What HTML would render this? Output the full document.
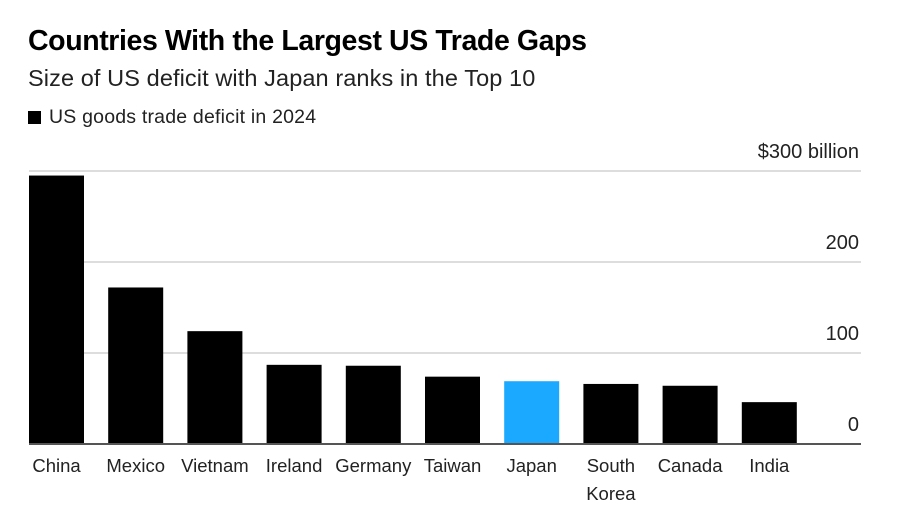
<!DOCTYPE html>
<html><head><meta charset="utf-8"><style>
body{margin:0;width:900px;height:510px;background:#fff;font-family:"Liberation Sans",sans-serif;overflow:hidden;position:relative}
.t{position:absolute;left:28px;top:25px;font-size:28.5px;font-weight:bold;color:#000;letter-spacing:-0.4px}
.s{position:absolute;left:28px;top:65px;font-size:23.5px;color:#222;letter-spacing:0.1px}
.l{position:absolute;left:28px;top:106px;font-size:19.5px;color:#222;letter-spacing:0.2px}
.l i{display:inline-block;width:13px;height:13px;background:#000;margin-right:8px;vertical-align:-1px}
</style></head><body>
<div class="t">Countries With the Largest US Trade Gaps</div>
<div class="s">Size of US deficit with Japan ranks in the Top 10</div>
<div class="l"><i></i>US goods trade deficit in 2024</div>
<svg id="c" width="900" height="510" style="position:absolute;left:0;top:0"></svg>
<script>
const categories=["China","Mexico","Vietnam","Ireland","Germany","Taiwan","Japan","South|Korea","Canada","India"];
const values=[295,172,124,87,86,74,69,66,64,46];
const ticks=[0,100,200,300];
const tickLabels=["0","100","200","$300 billion"];
const ns="http://www.w3.org/2000/svg",svg=document.getElementById('c');
const y0=444,pxPer=91/100,x0=29,pitch=79.2,bw=55,xEnd=861;
const y=v=>y0-v*pxPer;
function mk(t,a){const e=document.createElementNS(ns,t);for(const k in a)e.setAttribute(k,a[k]);svg.appendChild(e);return e;}
ticks.forEach((t,i)=>{
 if(t>0){const g=mk('line',{x1:x0,x2:xEnd,y1:y(t),y2:y(t),stroke:'#ddd','stroke-width':2});
 
 }
 const tx=mk('text',{x:xEnd-2,y:y(t)-13,'text-anchor':'end','font-size':20,fill:'#222'});
 tx.textContent=tickLabels[i];
 
 
});
values.forEach((v,i)=>{
 const x=x0+i*pitch;
 const r=mk('rect',{x:x,y:y(v),width:bw,height:y0-y(v),fill:categories[i]=="Japan"?'#1aa9ff':'#000'});
 
 
 categories[i].split('|').forEach((p,j)=>{
  const t=mk('text',{x:x+bw/2,y:472+j*28,'text-anchor':'middle','font-size':18.5,fill:'#222'});
  t.textContent=p;
  
  
 });
});
const b=mk('line',{x1:x0,x2:xEnd,y1:y0,y2:y0,stroke:'#555','stroke-width':2});


</script>
</body></html>
